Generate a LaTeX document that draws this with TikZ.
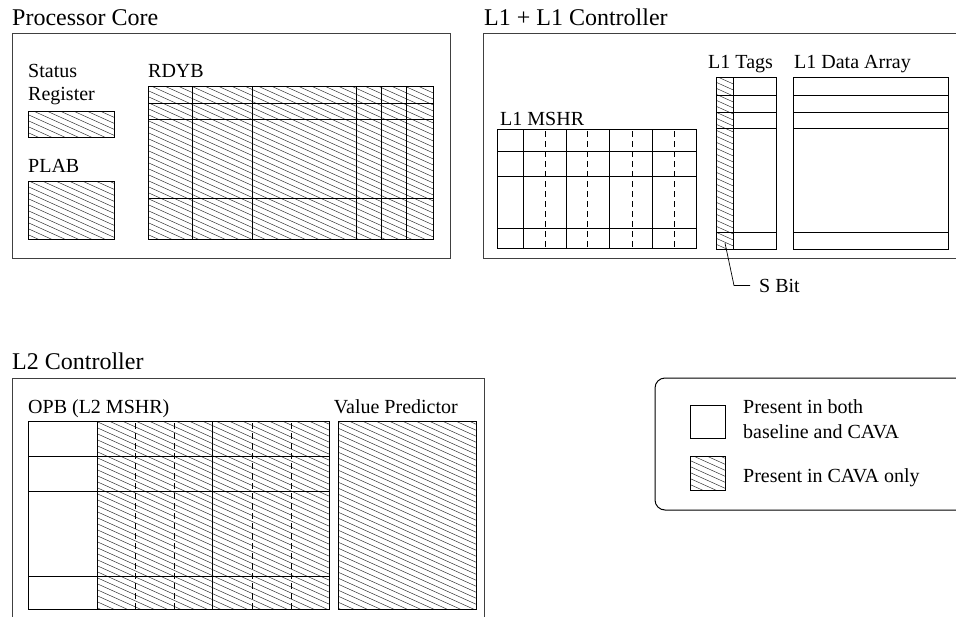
\documentclass[tikz,border=0pt]{standalone}
\usepackage{fontspec}
\setmainfont{Liberation Serif}
\usetikzlibrary{calc}
\tikzset{
  ttl/.style={font=\fontsize{24}{28}\selectfont, anchor=base west, inner sep=0pt},
  lbl/.style={font=\fontsize{20}{24}\selectfont, anchor=base west, inner sep=0pt},
  outerbox/.style={draw=black!75, line width=1pt},
  cell/.style={draw=black, line width=0.8pt},
  dashcell/.style={draw=black, line width=0.8pt, dash pattern=on 6pt off 4pt},
  hatchline/.style={draw=black!85, line width=0.45pt},
}
\begin{document}
\begin{tikzpicture}[x=1pt,y=-1pt]
\useasboundingbox (0,0) rectangle (956,616);
\clip (0,0) rectangle (956,616);
\fill[white] (0,0) rectangle (956,616);

% ---------- hatching ----------
\begin{scope}
  \clip (28,111) rectangle (114,137)
        (28,181) rectangle (114,239)
        (148,86) rectangle (433,239)
        (716,77) rectangle (733,249)
        (97,421) rectangle (329,609)
        (338,421) rectangle (476,609)
        (690,456) rectangle (725,490);
  \foreach \c in {-432,-426,...,620}
    \draw[hatchline] (0,\c) -- (956,\c+430.2);
\end{scope}

% ---------- Processor Core ----------
\node[ttl] (pctitle) at (12,25) {Processor Core};
\draw[outerbox] (12,33) rectangle (450,258);
\node[lbl] (status) at (28,77) {Status};
\node[lbl] (register) at (28,100) {Register};
\draw[cell] (28,111) rectangle (114,137);
\node[lbl] (plab) at (28,172) {PLAB};
\draw[cell] (28,181) rectangle (114,239);
\node[lbl] (rdyb) at (148,77) {RDYB};
\draw[cell] (148,86) rectangle (433,239);
\foreach \y in {103,119,198} \draw[cell] (148,\y) -- (433,\y);
\foreach \x in {192,252,356,381,406} \draw[cell] (\x,86) -- (\x,239);

% ---------- L1 + L1 Controller ----------
\node[ttl] (l1title) at (484,25) {L1 + L1 Controller};
\draw[outerbox] (483,33) rectangle (975,258);
\node[lbl] (mshr) at (500,125) {L1 MSHR};
\draw[cell] (497,129) rectangle (696,248);
\foreach \y in {151,176,228} \draw[cell] (497,\y) -- (696,\y);
\foreach \x in {523,566,609,652} \draw[cell] (\x,129) -- (\x,248);
\foreach \x in {545,587,632,674} \draw[dashcell] (\x,131) -- (\x,248);

\node[lbl] (tags) at (708,68) {L1 Tags};
\draw[cell] (716,77) rectangle (776,249);
\draw[cell] (733,77) -- (733,249);
\foreach \y in {95,112,128,232} \draw[cell] (716,\y) -- (776,\y);

\node[lbl] (data) at (794,68) {L1 Data Array};
\draw[cell] (793,77) rectangle (948,249);
\foreach \y in {95,112,128,232} \draw[cell] (793,\y) -- (948,\y);

\coordinate (sb) at (725,243);
\node[lbl] (sbit) at (759,292) {S Bit};
\draw[cell, line width=0.7pt] (sb) -- ($(sbit.west)+(-25,0)$) -- ($(sbit.west)+(-9,0)$);

% ---------- L2 Controller ----------
\node[ttl] (l2title) at (12,369) {L2 Controller};
\draw[outerbox] (12,378) rectangle (484,640);
\node[lbl] (opb) at (28,413) {OPB (L2 MSHR)};
\draw[cell] (28,421) rectangle (329,609);
\foreach \y in {456,491,576} \draw[cell] (28,\y) -- (329,\y);
\foreach \x in {97,212} \draw[cell] (\x,421) -- (\x,609);
\foreach \x in {135,174,252,291} \draw[dashcell] (\x,423) -- (\x,609);

\node[lbl, anchor=base east] (vp) at (458,413) {Value Predictor};
\draw[cell] (338,421) rectangle (476,609);

% ---------- Legend ----------
\draw[outerbox, draw=black, rounded corners=10pt] (655,378) rectangle (990,510);
\draw[cell] (690,405) rectangle (725,438);
\draw[cell] (690,456) rectangle (725,490);
\node[lbl] (leg1a) at (743,413) {Present in both};
\node[lbl] (leg1b) at (743,438) {baseline and CAVA};
\node[lbl] (leg2) at (743,482) {Present in CAVA only};
\end{tikzpicture}
\end{document}
